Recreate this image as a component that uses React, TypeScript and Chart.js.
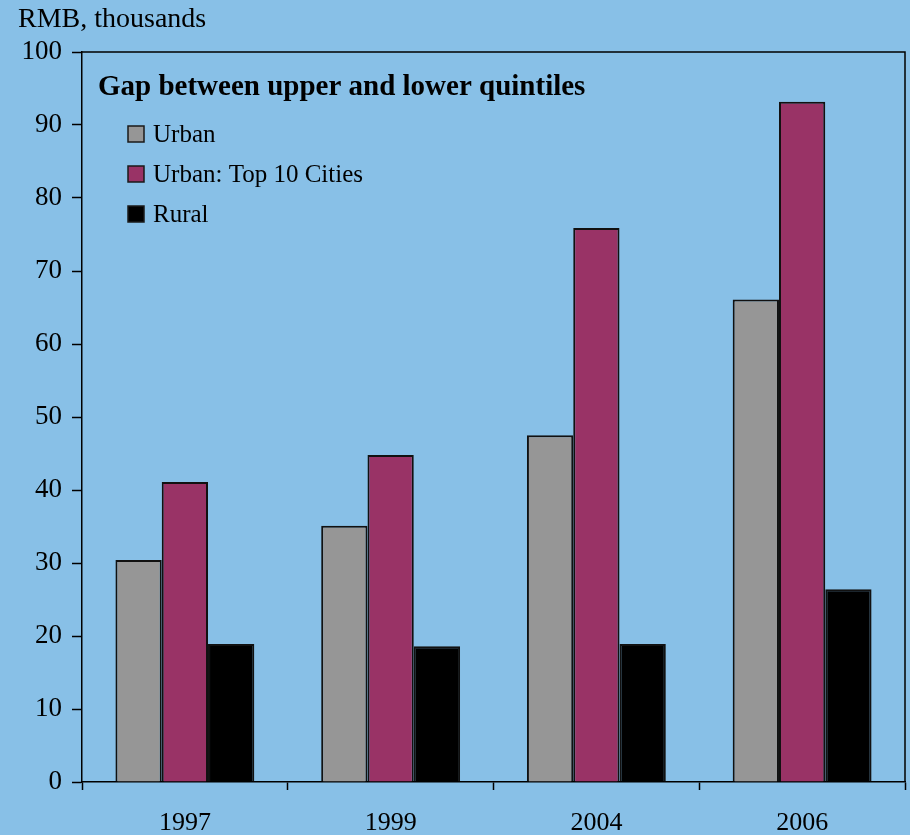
import React, { useEffect, useRef } from "react";
import { Chart, registerables } from "chart.js";

Chart.register(...registerables);

const categories = ["1997", "1999", "2004", "2006"];
const urban = [30.4, 35.1, 47.5, 66.1];
const top10 = [41.1, 44.8, 75.9, 93.2];
const rural = [18.9, 18.6, 18.9, 26.4];
const seriesNames = ["Urban", "Urban: Top 10 Cities", "Rural"];
const seriesColors = ["#969696", "#993366", "#000000"];
const yTicks = [0, 10, 20, 30, 40, 50, 60, 70, 80, 90, 100];
const axisTitle = "RMB, thousands";
const legendTitle = "Gap between upper and lower quintiles";

const BG = "#88c0e7";
const FONT = "'Liberation Serif', 'Times New Roman', serif";

const framePlugin = {
  id: "frame",
  afterDraw(chart: any) {
    const { ctx, chartArea } = chart;
    ctx.save();
    ctx.strokeStyle = "#000";
    ctx.lineWidth = 1.5;
    ctx.beginPath();
    ctx.moveTo(chartArea.left, chartArea.top);
    ctx.lineTo(chartArea.right, chartArea.top);
    ctx.lineTo(chartArea.right, chartArea.bottom);
    ctx.stroke();

    // axis unit label
    ctx.fillStyle = "#000";
    ctx.textBaseline = "alphabetic";
    ctx.textAlign = "left";
    ctx.font = `28px ${FONT}`;
    ctx.fillText(axisTitle, 18, 27);

    // legend title
    ctx.font = `bold 29px ${FONT}`;
    ctx.fillText(legendTitle, 98, 95);

    // legend items
    ctx.font = `25px ${FONT}`;
    seriesNames.forEach((name, i) => {
      const cy = 134 + i * 40;
      ctx.fillStyle = seriesColors[i];
      ctx.fillRect(128, cy - 8, 16, 16);
      ctx.strokeStyle = "#1a1a1a";
      ctx.lineWidth = 1.5;
      ctx.strokeRect(128, cy - 8, 16, 16);
      ctx.fillStyle = "#000";
      ctx.fillText(name, 153, cy + 8);
    });
    ctx.restore();
  },
};

export default function App() {
  const ref = useRef<HTMLCanvasElement>(null);
  useEffect(() => {
    if (!ref.current) return;
    const values = [urban, top10, rural];
    const chart = new Chart(ref.current, {
      type: "bar",
      data: {
        labels: categories,
        datasets: seriesNames.map((name, i) => ({
          label: name,
          data: values[i],
          backgroundColor: seriesColors[i],
          borderColor: "#111111",
          borderWidth: 2,
          categoryPercentage: 0.675,
          barPercentage: 1,
        })),
      },
      options: {
        responsive: false,
        maintainAspectRatio: false,
        animation: false,
        layout: { padding: { top: 52, right: 5, left: 0, bottom: 0 } },
        plugins: {
          legend: { display: false },
          title: { display: false },
          tooltip: { enabled: false },
        },
        scales: {
          x: {
            grid: {
              offset: true,
              drawOnChartArea: false,
              drawTicks: true,
              tickLength: 8,
              tickColor: "#000",
              tickWidth: 1.5,
            },
            border: { display: true, color: "#000", width: 1.5 },
            ticks: {
              color: "#000",
              font: { family: FONT, size: 26 },
              padding: 18,
            },
            afterFit(scale: any) {
              scale.height = 53;
            },
          },
          y: {
            min: 0,
            max: 100,
            afterBuildTicks(scale: any) {
              scale.ticks = yTicks.map((v) => ({ value: v }));
            },
            grid: {
              drawOnChartArea: false,
              drawTicks: true,
              tickLength: 10,
              tickColor: "#000",
              tickWidth: 1.5,
            },
            border: { display: true, color: "#000", width: 1.5 },
            ticks: {
              color: "#000",
              font: { family: FONT, size: 27 },
              padding: 10,
            },
            afterFit(scale: any) {
              scale.width = 82;
            },
          },
        },
      },
      plugins: [framePlugin],
    });
    return () => chart.destroy();
  }, []);

  return (
    <div
      style={{
        position: "fixed",
        left: 0,
        top: 0,
        width: 910,
        height: 835,
        background: BG,
      }}
    >
      <canvas ref={ref} width={910} height={835} />
    </div>
  );
}
